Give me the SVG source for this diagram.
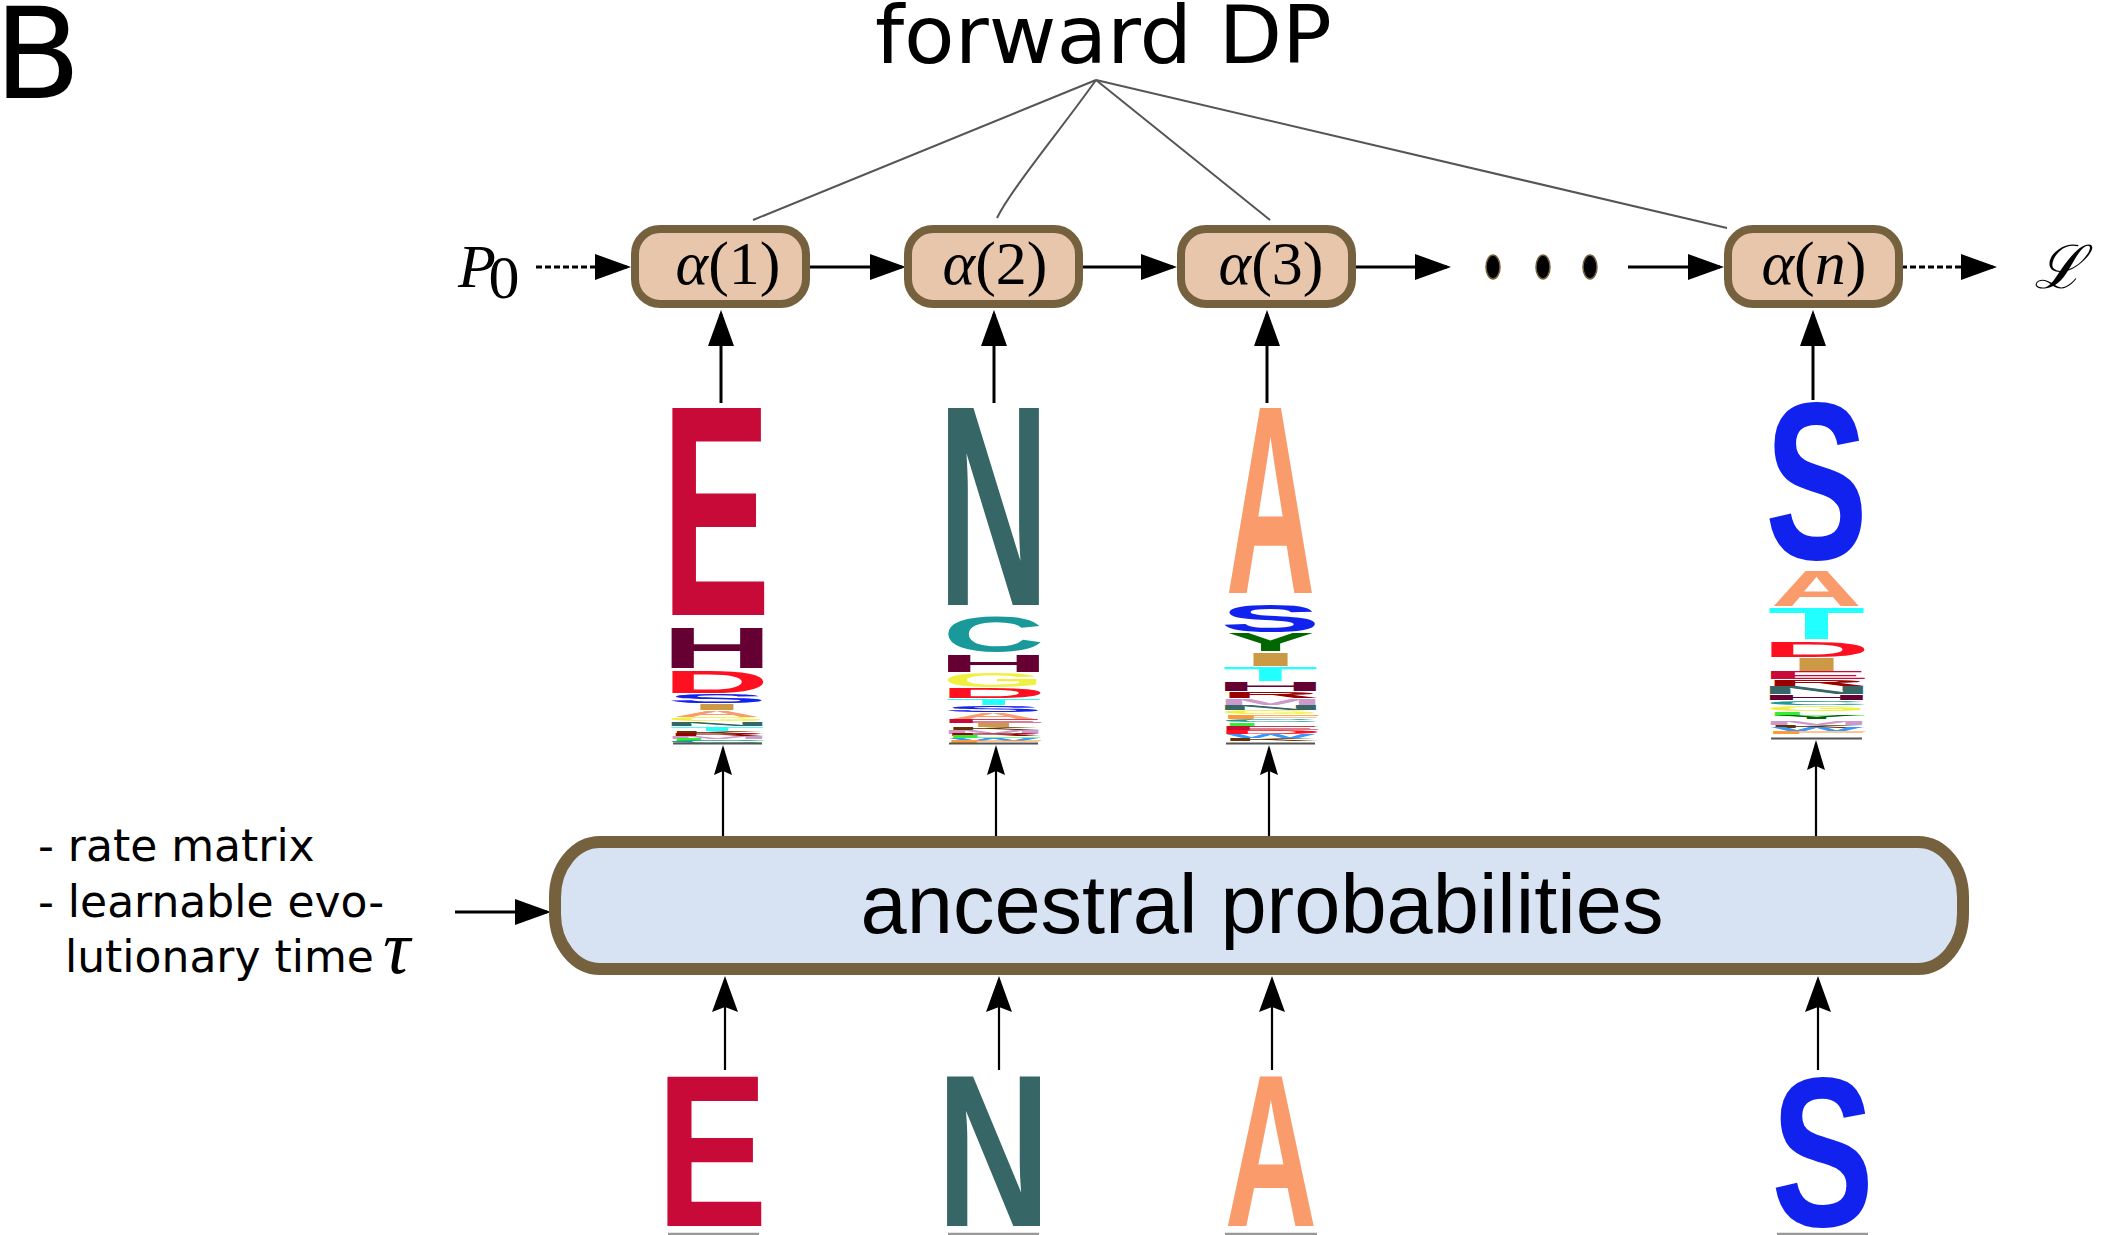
<svg xmlns="http://www.w3.org/2000/svg" width="2113" height="1235" viewBox="0 0 2113 1235">
<defs>
<style>
.sans{font-family:"DejaVu Sans",Verdana,sans-serif;fill:#000}
.box{fill:#e8c6ab;stroke:#76613f;stroke-width:8}
.anc{fill:#d7e2f3;stroke:#76613f;stroke-width:12}
.al{font-family:"Liberation Serif","Times New Roman",serif;font-size:62px;text-anchor:middle;fill:#000}
.it{font-style:italic}
.lg{font-family:"Liberation Sans",Arial,sans-serif;font-weight:bold;font-size:100px;text-anchor:middle}
.arr{stroke:#000;stroke-width:3;fill:none}
.thin{stroke:#000;stroke-width:2.2;fill:none}
.dash{stroke:#000;stroke-width:3;fill:none;stroke-dasharray:6,3}
.fdp{stroke:#555;stroke-width:2;fill:none}
.base{stroke:#555;stroke-width:2}
.ubase{stroke:#999;stroke-width:2.5}
.cE{fill:#c80a38}.cD{fill:#ff1020}.cH{fill:#660033}.cS{fill:#1122ee}.cA{fill:#fa9b6b}
.cT{fill:#22ffff}.cN{fill:#366666}.cC{fill:#19999a}.cG{fill:#f0f040}.cI{fill:#cc9944}
.cY{fill:#006600}.cR{fill:#990000}.cM{fill:#cc99cc}.cK{fill:#663300}.cL{fill:#33ee33}
.cF{fill:#ff9933}.cW{fill:#3399ff}
</style>
<marker id="ah" markerUnits="userSpaceOnUse" viewBox="0 -15 36 30" markerWidth="36" markerHeight="30" refX="32" refY="0" orient="auto">
<path d="M0,-13 L36,0 L0,13 Z" fill="#000"/>
</marker>
<marker id="as" markerUnits="userSpaceOnUse" viewBox="0 -15 36 30" markerWidth="36" markerHeight="30" refX="32" refY="0" orient="auto">
<path d="M0,-13 L36,0 L0,13 L5,0 Z" fill="#000"/>
</marker>
<marker id="am" markerUnits="userSpaceOnUse" viewBox="0 -12 30 24" markerWidth="30" markerHeight="24" refX="27" refY="0" orient="auto">
<path d="M0,-9 L30,0 L0,9 L4,0 Z" fill="#000"/>
</marker>
</defs>
<rect width="2113" height="1235" fill="#fff"/>

<g id="label-B"><text class="sans" x="-6" y="98" font-size="127">B</text></g>
<g id="label-forward"><text class="sans" x="875" y="63" font-size="81" textLength="457" lengthAdjust="spacingAndGlyphs">forward DP</text></g>

<g id="connectors">
<path class="fdp" d="M1096,80 L753,220"/>
<path class="fdp" d="M1096,80 C1062,128 1012,188 997,218"/>
<path class="fdp" d="M1096,80 L1270,220"/>
<path class="fdp" d="M1096,80 L1727,228"/>
<line class="dash" x1="536" y1="267" x2="627" y2="267" marker-end="url(#ah)"/>
<line class="arr" x1="810" y1="267" x2="902" y2="267" marker-end="url(#ah)"/>
<line class="arr" x1="1081" y1="267" x2="1173" y2="267" marker-end="url(#ah)"/>
<line class="arr" x1="1355" y1="267" x2="1447" y2="267" marker-end="url(#ah)"/>
<line class="arr" x1="1628" y1="267" x2="1720" y2="267" marker-end="url(#ah)"/>
<line class="dash" x1="1901" y1="267" x2="1993" y2="267" marker-end="url(#ah)"/>
<line class="arr" x1="721" y1="403" x2="721" y2="314" marker-end="url(#ah)"/>
<line class="arr" x1="994" y1="403" x2="994" y2="314" marker-end="url(#ah)"/>
<line class="arr" x1="1267" y1="403" x2="1267" y2="314" marker-end="url(#ah)"/>
<line class="arr" x1="1813" y1="400" x2="1813" y2="314" marker-end="url(#ah)"/>
<line class="thin" x1="723" y1="836" x2="723" y2="748" marker-end="url(#am)"/>
<line class="thin" x1="996" y1="836" x2="996" y2="748" marker-end="url(#am)"/>
<line class="thin" x1="1269" y1="836" x2="1269" y2="748" marker-end="url(#am)"/>
<line class="thin" x1="1816" y1="836" x2="1816" y2="743" marker-end="url(#am)"/>
<line class="thin" x1="725" y1="1070" x2="725" y2="980" marker-end="url(#as)"/>
<line class="thin" x1="999" y1="1070" x2="999" y2="980" marker-end="url(#as)"/>
<line class="thin" x1="1272" y1="1070" x2="1272" y2="980" marker-end="url(#as)"/>
<line class="thin" x1="1818" y1="1070" x2="1818" y2="980" marker-end="url(#as)"/>
<line class="arr" x1="455" y1="912" x2="547" y2="912" marker-end="url(#ah)"/>
</g>

<g id="P0"><text class="al it" x="477" y="287" font-size="66">P</text><text class="al" x="504" y="298" font-size="44">0</text></g>
<g id="L-out"><text x="2034" y="288" font-family="DejaVu Serif,serif" font-style="italic" font-size="60">ℒ</text></g>

<g id="alpha1"><rect class="box" x="635" y="229" width="171" height="75" rx="25"/><text class="al" x="728" y="284"><tspan class="it">α</tspan>(1)</text></g>
<g id="alpha2"><rect class="box" x="908" y="229" width="171" height="75" rx="25"/><text class="al" x="995" y="284"><tspan class="it">α</tspan>(2)</text></g>
<g id="alpha3"><rect class="box" x="1181" y="229" width="171" height="75" rx="25"/><text class="al" x="1271" y="284"><tspan class="it">α</tspan>(3)</text></g>
<g id="dots"><ellipse cx="1493" cy="267" rx="7" ry="12" fill="#000" stroke="#76613f" stroke-width="1.5"/><ellipse cx="1543" cy="267" rx="7" ry="12" fill="#000" stroke="#76613f" stroke-width="1.5"/><ellipse cx="1590" cy="267" rx="7" ry="12" fill="#000" stroke="#76613f" stroke-width="1.5"/></g>
<g id="alphan"><rect class="box" x="1728" y="229" width="171" height="75" rx="25"/><text class="al" x="1814" y="284"><tspan class="it">α</tspan>(<tspan class="it">n</tspan>)</text></g>

<g id="ancestral"><rect class="anc" x="555" y="842" width="1408" height="127" rx="45" ry="55"/><text x="1262" y="933" font-family="Liberation Sans,Arial,sans-serif" font-size="83" text-anchor="middle">ancestral probabilities</text></g>

<g id="params"><text class="sans" font-size="44" x="38" y="861">- rate matrix</text><text class="sans" font-size="44" x="38" y="917">- learnable evo-</text><text class="sans" font-size="44" x="65" y="972">lutionary time</text><text x="383" y="973" font-family="Liberation Serif,serif" font-style="italic" font-size="76">τ</text></g>

<g id="logo1">
<text class="lg cE" transform="translate(716,615) scale(1.636,3.009)">E</text>
<text class="lg cH" transform="translate(717,668) scale(1.545,0.582)">H</text>
<text class="lg cD" transform="translate(716,693) scale(1.483,0.305)">D</text>
<text class="lg cS" transform="translate(717,703) scale(1.508,0.127)">S</text>
<text class="lg cI" transform="translate(717,710) scale(2.29,0.087)">I</text>
<text class="lg cA" transform="translate(717,717) scale(1.236,0.087)">A</text>
<text class="lg cG" transform="translate(717,721) scale(1.309,0.058)">G</text>
<text class="lg cN" transform="translate(717,726) scale(1.545,0.058)">N</text>
<text class="lg cT" transform="translate(717,731) scale(1.56,0.058)">T</text>
<text class="lg cK" transform="translate(717,734) scale(1.37,0.044)">K</text>
<text class="lg cR" transform="translate(717,736) scale(1.39,0.029)">R</text>
<text class="lg cM" transform="translate(717,738.5) scale(1.28,0.036)">M</text>
<text class="lg cL" transform="translate(717,740.5) scale(1.71,0.029)">L</text>
<text class="lg cC" transform="translate(717,742.5) scale(1.41,0.028)">C</text>
<line class="base" x1="673" y1="743.5" x2="762" y2="743.5"/>
</g>
<g id="logo2">
<text class="lg cN" transform="translate(993.5,605) scale(1.545,2.863)">N</text>
<text class="lg cC" transform="translate(993.5,652.4) scale(1.413,0.506)">C</text>
<text class="lg cH" transform="translate(993.5,672) scale(1.545,0.232)">H</text>
<text class="lg cG" transform="translate(993.5,686.8) scale(1.309,0.197)">G</text>
<text class="lg cD" transform="translate(993,698) scale(1.483,0.146)">D</text>
<text class="lg cT" transform="translate(993.5,705) scale(1.56,0.087)">T</text>
<text class="lg cS" transform="translate(993.5,712) scale(1.508,0.084)">S</text>
<text class="lg cA" transform="translate(993.5,719) scale(1.236,0.087)">A</text>
<text class="lg cE" transform="translate(993,723) scale(1.636,0.044)">E</text>
<text class="lg cI" transform="translate(993.5,727) scale(2.14,0.058)">I</text>
<text class="lg cK" transform="translate(993.5,730) scale(1.37,0.044)">K</text>
<text class="lg cM" transform="translate(993.5,734) scale(1.28,0.058)">M</text>
<text class="lg cR" transform="translate(993.5,736) scale(1.39,0.029)">R</text>
<text class="lg cL" transform="translate(993.5,738) scale(1.71,0.029)">L</text>
<text class="lg cW" transform="translate(993.5,740.5) scale(0.95,0.036)">W</text>
<text class="lg cF" transform="translate(993.5,742.5) scale(1.78,0.029)">F</text>
<line class="base" x1="949" y1="743.5" x2="1038" y2="743.5"/>
</g>
<g id="logo3">
<text class="lg cA" transform="translate(1270.5,593) scale(1.236,2.689)">A</text>
<text class="lg cS" transform="translate(1270.5,631.6) scale(1.508,0.380)">S</text>
<text class="lg cY" transform="translate(1270.5,651) scale(1.328,0.261)">Y</text>
<text class="lg cI" transform="translate(1270.5,666) scale(2.36,0.189)">I</text>
<text class="lg cT" transform="translate(1270.5,681) scale(1.56,0.204)">T</text>
<text class="lg cH" transform="translate(1270.5,691) scale(1.545,0.131)">H</text>
<text class="lg cR" transform="translate(1270.5,698) scale(1.39,0.087)">R</text>
<text class="lg cM" transform="translate(1270.5,705) scale(1.28,0.087)">M</text>
<text class="lg cN" transform="translate(1270.5,710) scale(1.545,0.073)">N</text>
<text class="lg cG" transform="translate(1270.5,714) scale(1.309,0.044)">G</text>
<text class="lg cF" transform="translate(1270.5,719) scale(1.78,0.058)">F</text>
<text class="lg cC" transform="translate(1270.5,722) scale(1.41,0.029)">C</text>
<text class="lg cL" transform="translate(1270.5,727) scale(1.71,0.058)">L</text>
<text class="lg cE" transform="translate(1270,730) scale(1.636,0.044)">E</text>
<text class="lg cD" transform="translate(1270,734) scale(1.483,0.058)">D</text>
<text class="lg cW" transform="translate(1270.5,738) scale(0.95,0.058)">W</text>
<text class="lg cK" transform="translate(1270.5,741) scale(1.37,0.044)">K</text>
<line class="base" x1="1226" y1="743.5" x2="1315" y2="743.5"/>
</g>
<g id="logo4">
<text class="lg cS" transform="translate(1816.5,559.4) scale(1.542,2.25)">S</text>
<text class="lg cA" transform="translate(1816.5,606) scale(1.264,0.494)">A</text>
<text class="lg cT" transform="translate(1816.5,639) scale(1.596,0.436)">T</text>
<text class="lg cD" transform="translate(1816,657) scale(1.517,0.217)">D</text>
<text class="lg cI" transform="translate(1816.5,671) scale(2.36,0.175)">I</text>
<text class="lg cE" transform="translate(1815.5,679) scale(1.673,0.102)">E</text>
<text class="lg cR" transform="translate(1816.5,686) scale(1.42,0.087)">R</text>
<text class="lg cN" transform="translate(1816.5,694) scale(1.58,0.102)">N</text>
<text class="lg cH" transform="translate(1816.5,700) scale(1.58,0.073)">H</text>
<text class="lg cC" transform="translate(1816.5,705) scale(1.444,0.056)">C</text>
<text class="lg cG" transform="translate(1816.5,711) scale(1.34,0.071)">G</text>
<text class="lg cL" transform="translate(1816.5,716) scale(1.75,0.058)">L</text>
<text class="lg cY" transform="translate(1816.5,719) scale(1.36,0.044)">Y</text>
<text class="lg cM" transform="translate(1816.5,725) scale(1.31,0.058)">M</text>
<text class="lg cK" transform="translate(1816.5,728) scale(1.4,0.044)">K</text>
<text class="lg cW" transform="translate(1816.5,731) scale(0.97,0.044)">W</text>
<text class="lg cF" transform="translate(1816.5,734) scale(1.82,0.044)">F</text>
<line class="base" x1="1771" y1="738.5" x2="1862" y2="738.5"/>
</g>

<g id="seq-E"><text class="lg cE" transform="translate(712,1226) scale(1.673,2.165)">E</text><line class="ubase" x1="668" y1="1234" x2="759" y2="1234"/></g>
<g id="seq-N"><text class="lg cN" transform="translate(993.5,1226) scale(1.58,2.165)">N</text><line class="ubase" x1="948" y1="1234" x2="1039" y2="1234"/></g>
<g id="seq-A"><text class="lg cA" transform="translate(1271,1226) scale(1.278,2.165)">A</text><line class="ubase" x1="1225" y1="1234" x2="1317" y2="1234"/></g>
<g id="seq-S"><text class="lg cS" transform="translate(1822.5,1225.5) scale(1.54,2.14)">S</text><line class="ubase" x1="1777" y1="1234" x2="1868" y2="1234"/></g>
</svg>
